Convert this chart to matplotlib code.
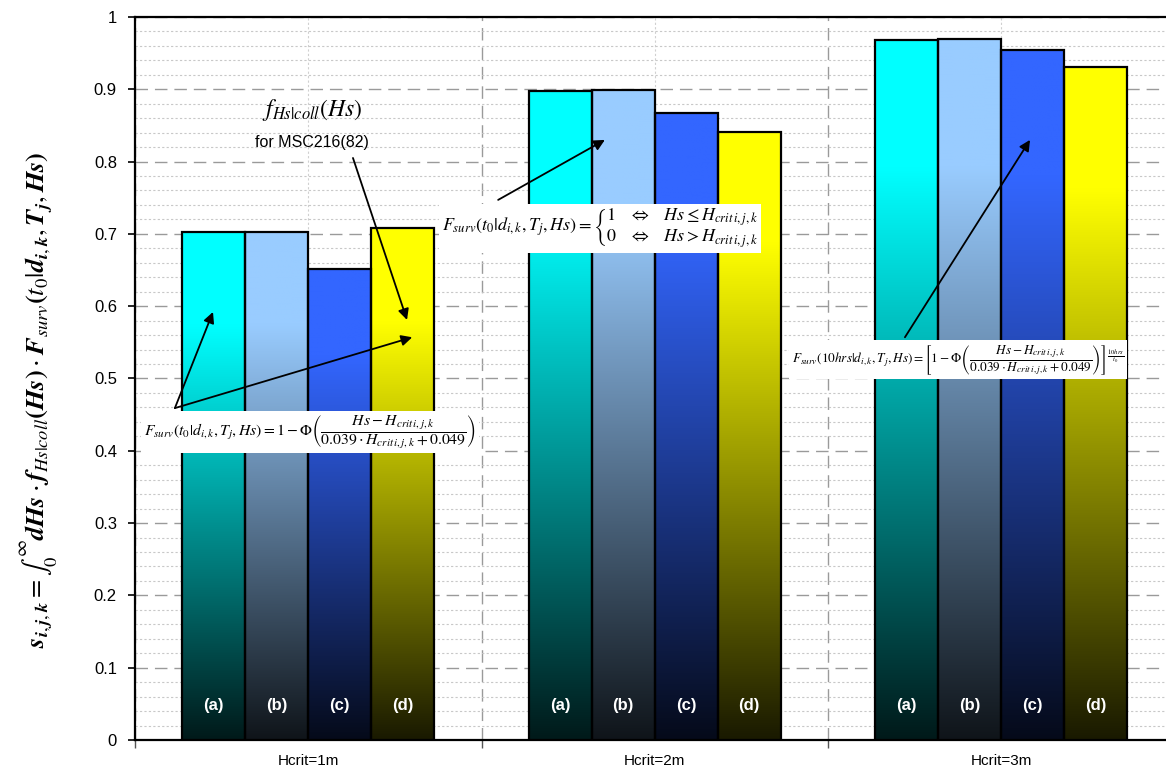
import numpy as np
import matplotlib
matplotlib.use("Agg")
import matplotlib.pyplot as plt
from matplotlib.ticker import MultipleLocator, FixedLocator, FuncFormatter

plt.rcParams['font.family'] = ['Liberation Sans', 'DejaVu Sans']
plt.rcParams['mathtext.fontset'] = 'stix'

# --- data ---
groups = ['Hcrit=1m', 'Hcrit=2m', 'Hcrit=3m']
cases = ['(a)', '(b)', '(c)', '(d)']
case_a = [0.702, 0.898, 0.968]
case_b = [0.703, 0.899, 0.970]
case_c = [0.651, 0.867, 0.954]
case_d = [0.708, 0.841, 0.931]
case_colors = ['#00FFFF', '#99CCFF', '#3366FF', '#FFFF00']

series = [case_a, case_b, case_c, case_d]

fig = plt.figure(figsize=(11.66, 7.72), dpi=100)
ax = fig.add_axes([0.1158, 0.0415, 0.8842, 0.9365])

bar_w = 0.1818
n_groups = len(groups)

# vertical gradient: full colour in the top part, fading to almost black at the bottom
grad_t = np.linspace(0, 1, 256)  # 0 = bottom, 1 = top
shade = np.clip(0.1 + 1.1 * grad_t, 0, 1)

for k, (vals, col) in enumerate(zip(series, case_colors)):
    rgb = np.array(matplotlib.colors.to_rgb(col))
    img = (shade[:, None] * rgb[None, :])[:, None, :]
    xs = np.arange(n_groups) + 0.5 + (k - 1.5) * bar_w
    bars = ax.bar(xs, vals, width=bar_w, facecolor='none', edgecolor='black',
                  linewidth=1.6, zorder=4)
    for b, v, x in zip(bars, vals, xs):
        im = ax.imshow(img, extent=[x - bar_w / 2, x + bar_w / 2, 0, v],
                       origin='lower', aspect='auto', zorder=3, interpolation='bilinear')
        im.set_clip_path(b)
        ax.text(x, 0.047, cases[k], color='white', fontsize=12, fontweight='bold',
                ha='center', va='center', zorder=5)

ax.set_xlim(0, 1031 / 346.5)
ax.set_ylim(0, 1)
ax.set_aspect('auto')

# ticks / grid
ax.yaxis.set_major_locator(MultipleLocator(0.1))
ax.yaxis.set_minor_locator(MultipleLocator(0.02))
ax.yaxis.set_major_formatter(FuncFormatter(lambda v, p: f"{v:.1f}" if 0.05 < v < 0.95 else f"{int(round(v))}"))
ax.xaxis.set_major_locator(FixedLocator([0, 1, 2]))
ax.xaxis.set_major_formatter(FuncFormatter(lambda v, p: ''))
ax.set_xticks([0.5, 1.5, 2.5], minor=True)
ax.set_xticklabels(groups, minor=True)
ax.tick_params(axis='x', which='minor', length=0, pad=10, labelsize=11)
ax.tick_params(axis='x', which='major', length=6, width=1, color='#555555')
ax.tick_params(axis='y', which='major', length=5, width=1.2, labelsize=12, pad=8)
ax.tick_params(axis='y', which='minor', length=0)

ax.grid(True, axis='y', which='major', color='#9a9a9a', linestyle=(0, (9, 5)), linewidth=1.0)
ax.grid(True, axis='y', which='minor', color='#c8c8c8', linestyle=(0, (2, 2)), linewidth=0.8)
ax.grid(True, axis='x', which='major', color='#9a9a9a', linestyle=(0, (9, 5)), linewidth=1.0)
ax.grid(True, axis='x', which='minor', color='#d0d0d0', linestyle=(0, (2, 2)), linewidth=0.8)
ax.set_axisbelow(True)

for s in ['left', 'bottom', 'top']:
    ax.spines[s].set_linewidth(1.6)
    ax.spines[s].set_color('black')
ax.spines['right'].set_visible(False)

# y label
ylab = (r'$\boldsymbol{s}_{\boldsymbol{i,j,k}}=\int_0^{\infty}\boldsymbol{dHs}\cdot\boldsymbol{f}_{Hs|coll}'
        r'\boldsymbol{(Hs)}\cdot\boldsymbol{F}_{surv}\boldsymbol{(t_0}|\boldsymbol{d}_{\boldsymbol{i,k}},'
        r'\boldsymbol{T}_{\boldsymbol{j}},\boldsymbol{Hs)}$')
ax.set_ylabel(ylab, fontsize=19)
ax.yaxis.set_label_coords(-0.073, 0.47)

box = dict(facecolor='white', edgecolor='none', pad=2)
arrow = dict(arrowstyle='-|>', color='black', lw=1.3, mutation_scale=16, shrinkA=0, shrinkB=0)

# annotation 1
eq1 = r'$F_{surv}(t_0|d_{i,k},T_j,Hs)=1-\Phi\left(\dfrac{Hs-H_{crit\,i,j,k}}{0.039\cdot H_{crit\,i,j,k}+0.049}\right)$'
ax.annotate('', xy=(0.225, 0.592), xytext=(0.115, 0.459), arrowprops=arrow, zorder=6)
ax.annotate('', xy=(0.80, 0.557), xytext=(0.115, 0.459), arrowprops=arrow, zorder=6)
ax.text(0.505, 0.426, eq1, fontsize=11.3, ha='center', va='center', bbox=box, zorder=7)

# annotation 2
ax.text(0.511, 0.871, r'$f_{Hs|coll}(Hs)$', fontsize=17, ha='center', va='center', zorder=7)
ax.text(0.511, 0.827, 'for MSC216(82)', fontsize=11.5, ha='center', va='center', zorder=7)
ax.annotate('', xy=(0.785, 0.581), xytext=(0.629, 0.805), arrowprops=arrow, zorder=6)

# annotation 3
eq3 = (r'$F_{surv}(t_0|d_{i,k},T_j,Hs)=\left\{\genfrac{}{}{0}{0}'
       r'{1\quad\Leftrightarrow\quad Hs\leq H_{crit\,i,j,k}}'
       r'{0\quad\Leftrightarrow\quad Hs>H_{crit\,i,j,k}}\right.$')
ax.annotate('', xy=(1.356, 0.830), xytext=(1.048, 0.747), arrowprops=arrow, zorder=6)
ax.text(1.342, 0.707, eq3, fontsize=13, ha='center', va='center', bbox=box, zorder=7)

# annotation 4
eq4 = (r'$F_{surv}(10hrs|d_{i,k},T_j,Hs)=\left[1-\Phi\left(\dfrac{Hs-H_{crit\,i,j,k}}'
       r'{0.039\cdot H_{crit\,i,j,k}+0.049}\right)\right]^{\frac{10hrs}{t_0}}$')
ax.annotate('', xy=(2.583, 0.830), xytext=(2.222, 0.557), arrowprops=arrow, zorder=6)
ax.text(2.375, 0.526, eq4, fontsize=9.5, ha='center', va='center', bbox=box, zorder=7)

fig.savefig('out.png', dpi=100)
